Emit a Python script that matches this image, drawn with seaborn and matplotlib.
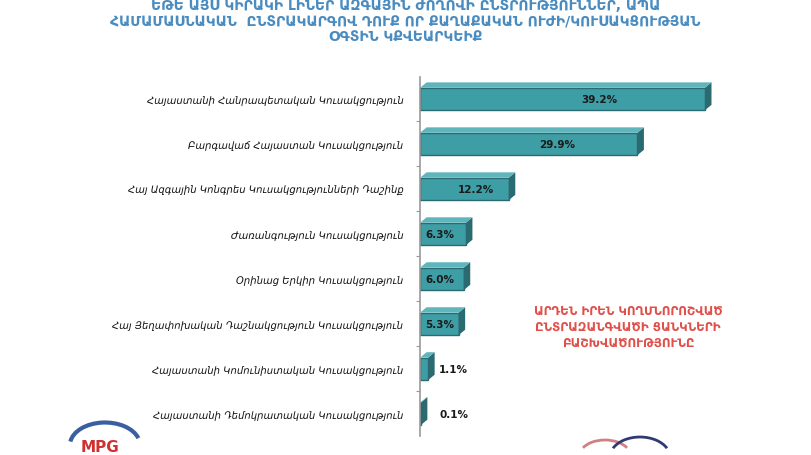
import matplotlib
matplotlib.use("Agg")
import matplotlib.pyplot as plt
import seaborn as sns
import pandas as pd
import numpy as np
from matplotlib.patches import Polygon, Arc

parties = [
    "Հայաստանի Հանրապետական Կուսակցություն",
    "Բարգավաճ Հայաստան Կուսակցություն",
    "Հայ Ազգային Կոնգրես Կուսակցությունների Դաշինք",
    "Ժառանգություն Կուսակցություն",
    "Օրինաց Երկիր Կուսակցություն",
    "Հայ Յեղափոխական Դաշնակցություն Կուսակցություն",
    "Հայաստանի Կոմունիստական Կուսակցություն",
    "Հայաստանի Դեմոկրատական Կուսակցություն",
]
shares = [39.2, 29.9, 12.2, 6.3, 6.0, 5.3, 1.1, 0.1]
value_labels = ["39.2%", "29.9%", "12.2%", "6.3%", "6.0%", "5.3%", "1.1%", "0.1%"]

title_lines = [
    "ԵԹԵ ԱՅՍ ԿԻՐԱԿԻ ԼԻՆԵՐ ԱԶԳԱՅԻՆ ԺՈՂՈՎԻ ԸՆՏՐՈՒԹՅՈՒՆՆԵՐ, ԱՊԱ",
    "ՀԱՄԱՄԱՍՆԱԿԱՆ  ԸՆՏՐԱԿԱՐԳՈՎ ԴՈՒՔ ՈՐ ՔԱՂԱՔԱԿԱՆ ՈՒԺԻ/ԿՈՒՍԱԿՑՈՒԹՅԱՆ",
    "ՕԳՏԻՆ ԿՔՎԵԱՐԿԵԻՔ",
]
note_lines = [
    "ԱՐԴԵՆ ԻՐԵՆ ԿՈՂՄՆՈՐՈՇՎԱԾ",
    "ԸՆՏՐԱԶԱՆԳՎԱԾԻ ՑԱՆԿՆԵՐԻ",
    "ԲԱՇԽՎԱԾՈՒԹՅՈՒՆԸ",
]

df = pd.DataFrame({"party": parties, "share": shares})

sns.set_theme(style="white")
plt.rcParams["font.family"] = ["DejaVu Sans"]

fig = plt.figure(figsize=(8.11, 4.56), dpi=100)
ax = fig.add_axes([0.518, 0.041, 0.448, 0.789])

bar_color = "#3e9ea6"
sns.barplot(data=df, x="share", y="party", orient="h", color=bar_color,
            width=0.5, edgecolor="#2a6a70", linewidth=1.0, saturation=1, ax=ax)

# pseudo 3D side/top faces derived from the bar geometry
dx, dy = 0.9, -0.12
for p in list(ax.patches):
    x0, y0 = p.get_x(), p.get_y()
    w, h = p.get_width(), p.get_height()
    side = Polygon([(x0 + w, y0), (x0 + w + dx, y0 + dy), (x0 + w + dx, y0 + h + dy),
                    (x0 + w, y0 + h)], closed=True, facecolor="#2a6a70",
                   edgecolor="none", zorder=p.get_zorder())
    top = Polygon([(x0, y0), (x0 + dx, y0 + dy), (x0 + w + dx, y0 + dy), (x0 + w, y0)],
                  closed=True, facecolor="#5fb5bc", edgecolor="none", zorder=p.get_zorder())
    ax.add_patch(side)
    ax.add_patch(top)

ax.set_xlim(0, 50)
ax.set_ylim(7.5, -0.5)
ax.set_xlabel("")
ax.set_ylabel("")
ax.set_xticks([])
ax.set_yticks(np.arange(0.5, 7.5, 1.0), minor=True)
ax.tick_params(axis="y", which="major", length=0, pad=12, labelsize=7.2, labelcolor="#111111")
ax.tick_params(axis="y", which="minor", left=True, length=3, width=0.8, color="#9a9a9a")
for t in ax.get_yticklabels():
    t.set_fontstyle("italic")
for s in ["top", "right", "bottom"]:
    ax.spines[s].set_visible(False)
ax.spines["left"].set_color("#9a9a9a")
ax.spines["left"].set_linewidth(1.2)
ax.set_facecolor("none")

for i, (v, lab) in enumerate(zip(shares, value_labels)):
    if v > 10:
        xpos = v * 0.63
    elif v >= 5:
        xpos = 2.75
    else:
        xpos = 4.6
    ax.text(xpos, i, lab, ha="center", va="center", fontsize=7.5,
            fontweight="bold", color="#1a1a1a")

title_y = [6, 22, 38]
for line, y in zip(title_lines, title_y):
    fig.text(0.5, 1 - y / 456, line, ha="center", va="center", fontsize=10,
             fontweight="bold", color="#4a8cc0")

note_y = [311, 327, 343]
for line, y in zip(note_lines, note_y):
    fig.text(628 / 811, 1 - y / 456, line, ha="center", va="center", fontsize=8.6,
             fontweight="bold", color="#e0504a")

# logos at bottom
fig.text(100 / 811, 1 / 456, "MPG", ha="center", va="bottom", fontsize=11,
         fontweight="bold", color="#d03030")
fig.add_artist(Arc((105 / 811, 10 / 456), 70 / 811, 45 / 456, theta1=20, theta2=170,
                   transform=fig.transFigure, color="#3a5fa0", linewidth=3))
fig.add_artist(Arc((605 / 811, 0), 50 / 811, 30 / 456, theta1=30, theta2=150,
                   transform=fig.transFigure, color="#d08080", linewidth=2))
fig.add_artist(Arc((640 / 811, -2 / 456), 60 / 811, 40 / 456, theta1=30, theta2=150,
                   transform=fig.transFigure, color="#303a70", linewidth=2))

fig.savefig("out.png", dpi=100, facecolor="white")
